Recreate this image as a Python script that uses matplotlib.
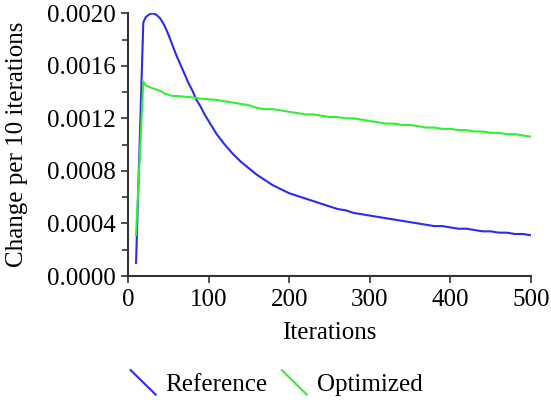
import matplotlib
matplotlib.use("Agg")
import matplotlib.pyplot as plt
from matplotlib.lines import Line2D
from matplotlib.legend_handler import HandlerBase
from matplotlib.ticker import MultipleLocator

# iteration counts where the change was sampled
iters = [10, 19, 22, 26, 30, 35, 40, 45, 50, 55, 60, 65, 70, 75, 80, 85, 90, 95,
         100, 110, 120, 130, 140, 150, 160, 170, 180, 190, 200, 210, 220, 230,
         240, 250, 260, 270, 280, 290, 300, 310, 320, 330, 340, 350, 360, 370,
         380, 390, 400, 410, 420, 430, 440, 450, 460, 470, 480, 490, 500]

reference = [0.00010, 0.00193, 0.00197, 0.00199, 0.00200, 0.00199, 0.00196, 0.00191,
             0.00184, 0.00176, 0.00168, 0.00161, 0.00154, 0.00147, 0.00141, 0.00134,
             0.00129, 0.00123, 0.00118, 0.00108, 0.00100, 0.00093, 0.00087, 0.00082,
             0.00077, 0.00073, 0.00069, 0.00066, 0.00063, 0.00061, 0.00059, 0.00057,
             0.00055, 0.00053, 0.00051, 0.00050, 0.00048, 0.00047, 0.00046, 0.00045,
             0.00044, 0.00043, 0.00042, 0.00041, 0.00040, 0.00039, 0.00038, 0.00038,
             0.00037, 0.00036, 0.00036, 0.00035, 0.00034, 0.00034, 0.00033, 0.00033,
             0.00032, 0.00032, 0.00031]

optimized = [0.00031, 0.00148, 0.00145, 0.00144, 0.00143, 0.00142, 0.00141, 0.00139,
             0.00138, 0.00137, 0.00137, 0.001368, 0.001365, 0.001362, 0.00136, 0.001355,
             0.00135, 0.001348, 0.001345, 0.00134, 0.00133, 0.00132, 0.00131, 0.00130,
             0.00128, 0.00127, 0.00127, 0.00126, 0.00125, 0.00124, 0.00123, 0.00123,
             0.00122, 0.00121, 0.00121, 0.00120, 0.00120, 0.00119, 0.00118, 0.00117,
             0.00116, 0.00116, 0.00115, 0.00115, 0.00114, 0.00113, 0.00113, 0.00112,
             0.00112, 0.00111, 0.00111, 0.00110, 0.00110, 0.00109, 0.00109, 0.00108,
             0.00108, 0.00107, 0.00106]


class DiagonalHandler(HandlerBase):
    # legend key drawn as a short "\" stroke
    def create_artists(self, legend, orig_handle, xdescent, ydescent,
                       width, height, fontsize, trans):
        line = Line2D([-xdescent, -xdescent + width],
                      [-ydescent + height * 1.2, -ydescent - height * 0.2],
                      color=orig_handle.get_color(),
                      linewidth=orig_handle.get_linewidth())
        line.set_transform(trans)
        return [line]


def main():
    plt.rcParams['font.family'] = ['Liberation Serif', 'DejaVu Serif']
    plt.rcParams['font.size'] = 18

    fig = plt.figure(figsize=(5.51, 4.03), dpi=100)
    ax = fig.add_axes([0.2323, 0.3151, 0.7314, 0.652])

    l1, = ax.plot(iters, reference, color='#2b2bf0', linewidth=1.5)
    l2, = ax.plot(iters, optimized, color='#33ee33', linewidth=1.5)

    ax.set_xlim(0, 500)
    ax.set_ylim(0, 0.002)
    ax.xaxis.set_major_locator(MultipleLocator(100))
    ax.yaxis.set_major_locator(MultipleLocator(0.0004))
    ax.yaxis.set_minor_locator(MultipleLocator(0.0002))
    ax.yaxis.set_major_formatter(lambda v, pos: f"{v:.4f}")

    for side in ['top', 'right']:
        ax.spines[side].set_visible(False)
    for side in ['left', 'bottom']:
        ax.spines[side].set_color('#333333')
        ax.spines[side].set_linewidth(1.5)
    ax.tick_params(which='major', length=5, width=1.2, color='#333333', pad=4)
    ax.tick_params(which='minor', length=4, width=1.2, color='#333333')

    ax.set_xlabel('Iterations', va='center')
    ax.set_ylabel('Change per 10 iterations', va='center')
    ax.xaxis.set_label_coords(0.5, -0.217)
    ax.yaxis.set_label_coords(-0.275, 0.5)

    fig.legend([l1, l2], ['Reference', 'Optimized'],
               handler_map={Line2D: DiagonalHandler()},
               loc='center', bbox_to_anchor=(0.502, 0.045), ncol=2,
               frameon=False, handlelength=1.0, handletextpad=0.4,
               columnspacing=0.56)

    fig.savefig('out.png', dpi=100)


if __name__ == '__main__':
    main()
